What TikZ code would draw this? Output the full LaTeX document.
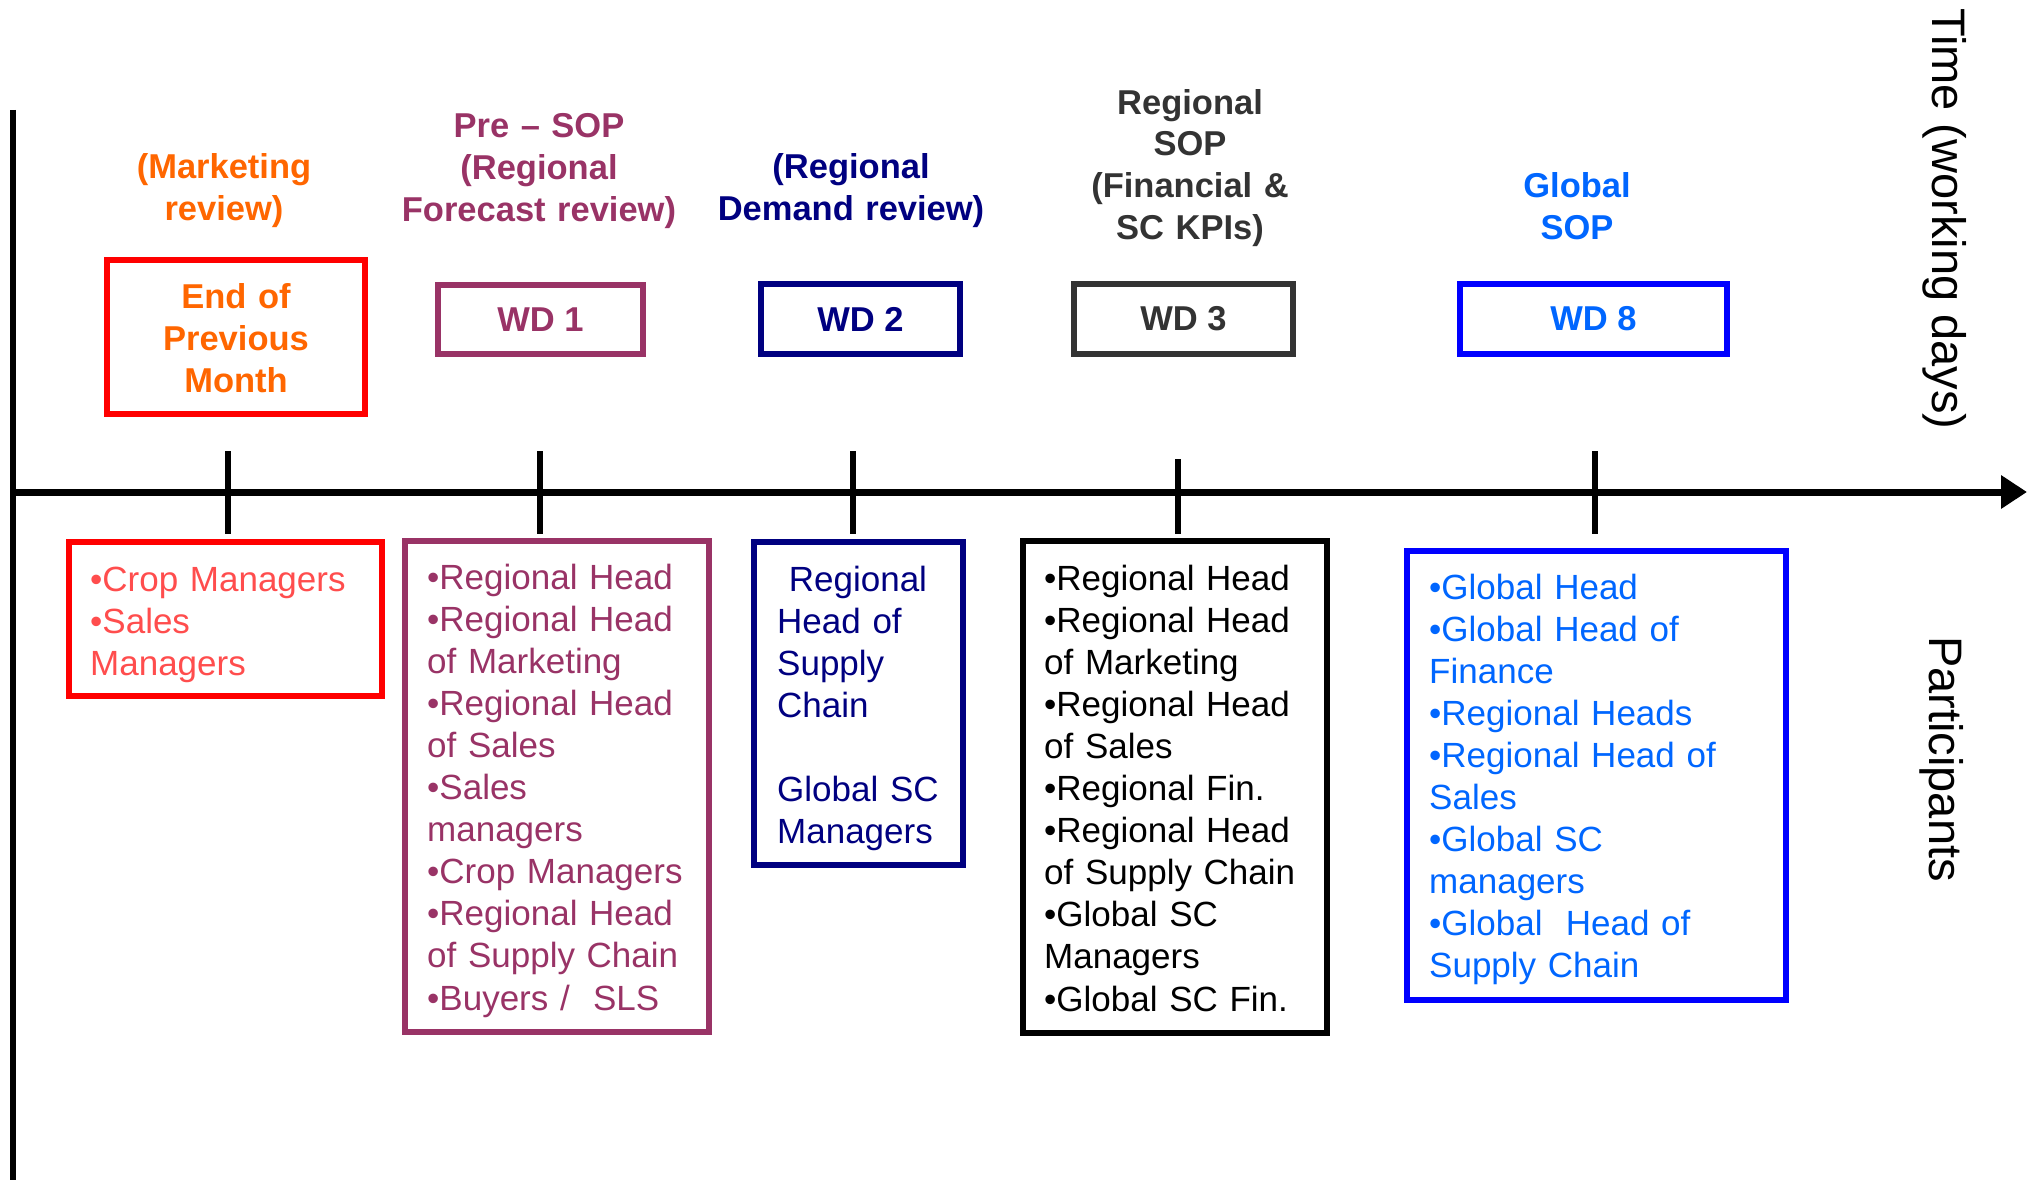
\documentclass[tikz,border=0pt]{standalone}
\usepackage{fontspec}
\setmainfont{Liberation Sans}
\usetikzlibrary{arrows.meta}
\definecolor{mkorange}{HTML}{FF6600}
\definecolor{mkred}{HTML}{FF0000}
\definecolor{croptext}{HTML}{FF4D4D}
\definecolor{plum}{HTML}{993366}
\definecolor{navyblue}{HTML}{000080}
\definecolor{charcoal}{HTML}{333333}
\definecolor{globaltext}{HTML}{0066FF}
\definecolor{pureblue}{HTML}{0000FF}
\begin{document}
\begin{tikzpicture}[x=1pt,y=-1pt,
  phase/.style={font=\fontsize{34.5}{42}\selectfont\bfseries, text width=420pt,
    align=center, inner sep=0pt, anchor=base},
  daybox/.style={draw, line width=6pt, inner sep=0pt,
    font=\fontsize{34.5}{42}\selectfont\bfseries},
  crew/.style={draw, line width=6pt, inner sep=0pt},
  names/.style={font=\fontsize{35}{42.1}\selectfont, text width=380pt,
    align=left, inner sep=0pt, anchor=base west},
  axistick/.style={line width=6pt},
  axislabel/.style={font=\fontsize{47}{56}\selectfont, rotate=-90,
    anchor=base west, inner sep=0pt}]
\useasboundingbox (0,0) rectangle (2031,1180);

% axes
\coordinate (ytop) at (13,110);
\coordinate (ybot) at (13,1180);
\coordinate (origin) at (13,492);
\coordinate (xend) at (2027,492);
\draw[line width=6pt] (ytop) -- (ybot);
\draw[line width=7pt, -{Triangle[length=26pt,width=32pt]}] (origin) -- (xend);

% ticks on the time axis
\coordinate (t0a) at (228,451);  \coordinate (t0b) at (228,534);
\coordinate (t1a) at (540,451);  \coordinate (t1b) at (540,534);
\coordinate (t2a) at (853,451);  \coordinate (t2b) at (853,534);
\coordinate (t3a) at (1178,459); \coordinate (t3b) at (1178,534);
\coordinate (t8a) at (1595,451); \coordinate (t8b) at (1595,534);
\draw[axistick] (t0a) -- (t0b);
\draw[axistick] (t1a) -- (t1b);
\draw[axistick] (t2a) -- (t2b);
\draw[axistick] (t3a) -- (t3b);
\draw[axistick] (t8a) -- (t8b);

% axis labels
\node[axislabel] (timelbl) at (1932,8) {Time (working days)};
\node[axislabel] (partlbl) at (1929,636) {Participants};

% meeting names
\node[phase, text=mkorange] (ph0) at (224,178) {(Marketing\\review)};
\node[phase, text=plum] (ph1) at (539,138) {Pre – SOP\\(Regional\\Forecast review)};
\node[phase, text=navyblue] (ph2) at (851,178) {(Regional\\Demand review)};
\node[phase, text=charcoal] (ph3) at (1190,114) {Regional\\SOP\\(Financial \&\\SC KPIs)};
\node[phase, text=globaltext] (ph8) at (1577,197) {Global\\SOP};

% working-day boxes
\node[daybox, draw=mkred, minimum width=258pt, minimum height=154pt] (d0) at (236,337) {};
\node[phase, text=mkorange] (d0txt) at (236,308) {End of\\Previous\\Month};
\node[daybox, draw=plum, text=plum, minimum width=205pt, minimum height=69pt] (d1) at (540.5,319.5) {WD 1};
\node[daybox, draw=navyblue, text=navyblue, minimum width=199pt, minimum height=70pt] (d2) at (860.5,319) {WD 2};
\node[daybox, draw=charcoal, text=charcoal, minimum width=219pt, minimum height=70pt] (d3) at (1183.5,319) {WD 3};
\node[daybox, draw=pureblue, text=globaltext, minimum width=267pt, minimum height=70pt] (d8) at (1593.5,319) {WD 8};

% participant boxes
\node[crew, draw=mkred, minimum width=313pt, minimum height=154pt] (p0) at (225.5,619) {};
\node[names, text=croptext] (p0txt) at (90,591) {•Crop Managers\\•Sales\\Managers};

\node[crew, draw=plum, minimum width=304pt, minimum height=491pt] (p1) at (557,786.5) {};
\node[names, text=plum] (p1txt) at (427,589) {•Regional Head\\•Regional Head\\of Marketing\\•Regional Head\\of Sales\\•Sales\\managers\\•Crop Managers\\•Regional Head\\of Supply Chain\\•Buyers /~ SLS};

\node[crew, draw=navyblue, minimum width=209pt, minimum height=323pt] (p2) at (858.5,703.5) {};
\node[names, text=navyblue] (p2txt) at (777,591) {\ Regional\\Head of\\Supply\\Chain\\[42.1pt]Global SC\\Managers};

\node[crew, draw=black, line width=6.5pt, minimum width=304pt, minimum height=492pt] (p3) at (1175,787) {};
\node[names, text=black] (p3txt) at (1044,590) {•Regional Head\\•Regional Head\\of Marketing\\•Regional Head\\of Sales\\•Regional Fin.\\•Regional Head\\of Supply Chain\\•Global SC\\Managers\\•Global SC Fin.};

\node[crew, draw=pureblue, line width=6.5pt, minimum width=379pt, minimum height=449pt] (p8) at (1596.5,775.5) {};
\node[names, text=globaltext] (p8txt) at (1429,599) {•Global Head\\•Global Head of\\Finance\\•Regional Heads\\•Regional Head of\\Sales\\•Global SC\\managers\\•Global~ Head of\\Supply Chain};
\end{tikzpicture}
\end{document}
